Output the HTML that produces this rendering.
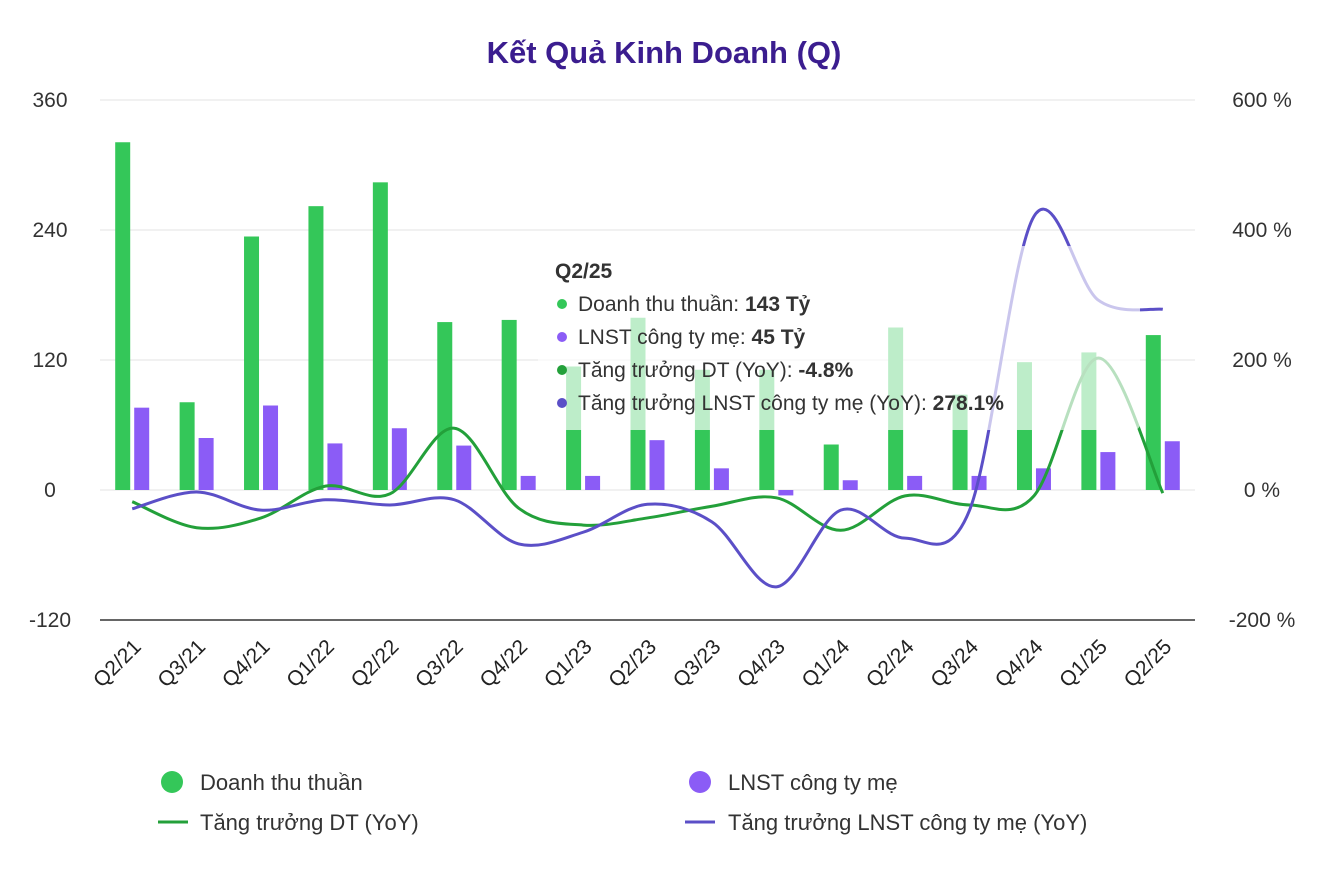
<!DOCTYPE html>
<html><head><meta charset="utf-8"><style>
body{margin:0;background:#fff;font-family:"Liberation Sans","Noto Sans CJK SC",sans-serif;}
svg text{font-family:"Liberation Sans","Noto Sans CJK SC",sans-serif;}
</style></head><body>
<svg id="chart" width="1329" height="880" xmlns="http://www.w3.org/2000/svg">
<text x="664" y="63" text-anchor="middle" font-size="31" font-weight="bold" fill="#3b1d8f">Kết Quả Kinh Doanh (Q)</text>
<g id="grid"></g><g id="bars"></g><g id="lines"></g><g id="axes"></g>
<g>
<rect x="538" y="246" width="602" height="184" rx="6" fill="rgba(255,255,255,0.68)"/>
<text x="555" y="278" font-size="21" font-weight="bold" fill="#333">Q2/25</text>
<circle cx="562" cy="304" r="5" fill="#34c759"/><text x="578" y="311" font-size="21" fill="#333">Doanh thu thuần: <tspan font-weight="bold">143 Tỷ</tspan></text>
<circle cx="562" cy="337" r="5" fill="#8b5cf6"/><text x="578" y="344" font-size="21" fill="#333">LNST công ty mẹ: <tspan font-weight="bold">45 Tỷ</tspan></text>
<circle cx="562" cy="370" r="5" fill="#23a03a"/><text x="578" y="377" font-size="21" fill="#333">Tăng trưởng DT (YoY): <tspan font-weight="bold">-4.8%</tspan></text>
<circle cx="562" cy="403" r="5" fill="#5b4fc7"/><text x="578" y="410" font-size="21" fill="#333">Tăng trưởng LNST công ty mẹ (YoY): <tspan font-weight="bold">278.1%</tspan></text>
</g>
<g font-size="22" fill="#333">
<g><circle cx="172" cy="782" r="11" fill="#34c759"/><text x="200" y="790">Doanh thu thuần</text></g>
<g><circle cx="700" cy="782" r="11" fill="#8b5cf6"/><text x="728" y="790">LNST công ty mẹ</text></g>
<g><line x1="158" y1="822" x2="188" y2="822" stroke="#23a03a" stroke-width="3"/><text x="200" y="830">Tăng trưởng DT (YoY)</text></g>
<g><line x1="685" y1="822" x2="715" y2="822" stroke="#5b4fc7" stroke-width="3"/><text x="728" y="830">Tăng trưởng LNST công ty mẹ (YoY)</text></g>
</g>
</svg>
<script>
const categories=["Q2/21","Q3/21","Q4/21","Q1/22","Q2/22","Q3/22","Q4/22","Q1/23","Q2/23","Q3/23","Q4/23","Q1/24","Q2/24","Q3/24","Q4/24","Q1/25","Q2/25"];
const revenue=[321,81,234,262,284,155,157,114,159,111,111,42,150,88,118,127,143];
const profit=[76,48,78,43,57,41,13,13,46,20,-5,9,13,13,20,35,45];
const revenueGrowth=[-18,-58,-43,6,-6,95,-28,-54,-43,-25,-12,-62,-9,-23,-9,203,-4.8];
const profitGrowth=[-29,-3,-31,-15,-23,-15,-83,-65,-22,-49,-149,-31,-74,-31,421,292,278.1];
const leftTicks=[360,240,120,0,-120];
const rightTicks=[600,400,200,0,-200];
const NS="http://www.w3.org/2000/svg";
const X0=100,X1=1195,Y0=490,PX=130/120,PR=130/200;
const bw=(X1-X0)/categories.length;
const xc=i=>X0+bw*(i+0.5);
const yL=v=>Y0-v*PX;
const yR=v=>Y0-v*PR;
function mk(t,a,p){const e=document.createElementNS(NS,t);for(const k in a)e.setAttribute(k,a[k]);document.getElementById(p).appendChild(e);return e;}
leftTicks.forEach((v,i)=>{
 const l=mk('line',{x1:X0,x2:X1,y1:yL(v),y2:yL(v),stroke:v===-120?'#333':'#e3e3e3','stroke-width':v===-120?1.5:1},'grid');
 
 
 const t=mk('text',{x:50,y:yL(v)+7,'text-anchor':'middle','font-size':21,fill:'#333'},'axes');t.textContent=v;
 
 
});
rightTicks.forEach(v=>{
 const t=mk('text',{x:1262,y:yR(v)+7,'text-anchor':'middle','font-size':21,fill:'#333'},'axes');t.textContent=v+' %';
 
 
});
categories.forEach((c,i)=>{
 const t=mk('text',{x:0,y:0,'text-anchor':'end','font-size':21,fill:'#222',transform:`translate(${xc(i)+10},${648}) rotate(-45)`},'axes');t.textContent=c;
 
 
 const v=revenue[i];
 const b=mk('rect',{x:xc(i)-17,y:Math.min(yL(v),Y0),width:15,height:Math.abs(yL(v)-Y0),fill:'#34c759'},'bars');
 
 
 const p=profit[i];
 const b2=mk('rect',{x:xc(i)+2,y:Math.min(yL(p),Y0),width:15,height:Math.abs(yL(p)-Y0),fill:'#8b5cf6'},'bars');
 
 
});
function path(vals){
 const pts=vals.map((v,i)=>[xc(i),yR(v)]);
 let d=`M${pts[0][0]},${pts[0][1]}`;
 for(let i=0;i<pts.length-1;i++){
  const p0=pts[i-1]||pts[i],p1=pts[i],p2=pts[i+1],p3=pts[i+2]||p2;
  const c1=[p1[0]+(p2[0]-p0[0])/6,p1[1]+(p2[1]-p0[1])/6];
  const c2=[p2[0]-(p3[0]-p1[0])/6,p2[1]-(p3[1]-p1[1])/6];
  d+=` C${c1[0]},${c1[1]} ${c2[0]},${c2[1]} ${p2[0]},${p2[1]}`;
 }
 return d;
}
const g1=mk('path',{d:path(revenueGrowth),fill:'none',stroke:'#23a03a','stroke-width':3},'lines');


const g2=mk('path',{d:path(profitGrowth),fill:'none',stroke:'#5b4fc7','stroke-width':3},'lines');


</script>
</body></html>
